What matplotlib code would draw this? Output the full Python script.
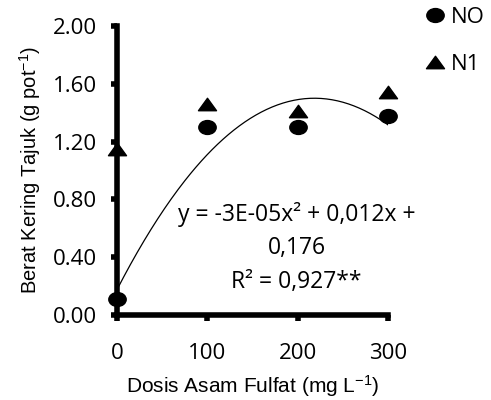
import numpy as np
import matplotlib
matplotlib.use("Agg")
import matplotlib.pyplot as plt
from matplotlib.path import Path
from matplotlib.transforms import Affine2D
from matplotlib.lines import Line2D

# data
dosis = [0, 100, 200, 300]
n0 = [0.11, 1.30, 1.30, 1.38]
n1 = [1.15, 1.46, 1.41, 1.54]
y_ticks = [0.0, 0.4, 0.8, 1.2, 1.6, 2.0]
x_ticks = [0, 100, 200, 300]
series_labels = ["NO", "N1"]
equation = "y = -3E-05x² + 0,012x +\n0,176\nR² = 0,927**"

plt.rcParams["mathtext.default"] = "regular"

# the reference markers are a bit wider than tall
circle = Path.unit_circle().transformed(Affine2D().scale(1.25, 1.0))
tri = Path([(0, 1), (-1.45, -1), (1.45, -1), (0, 1)],
           [Path.MOVETO, Path.LINETO, Path.LINETO, Path.CLOSEPOLY])

fig = plt.figure(figsize=(4.91, 4.00), dpi=100)
ax = fig.add_axes([0.238, 0.2125, 0.552, 0.7225])

# polynomial trend line of the NO series
coef = np.polyfit(dosis, n0, 2)
xs = np.linspace(0, 300, 200)
ax.plot(xs, np.polyval(coef, xs), color="black", lw=0.9, zorder=2)

ax.plot(dosis, n0, ls="none", marker=circle, ms=12.5, color="black",
        clip_on=False, zorder=5)
ax.plot(dosis, n1, ls="none", marker=tri, ms=13, color="black",
        clip_on=False, zorder=5)

ax.set_xlim(0, 300)
ax.set_ylim(0, 2.0)
ax.set_xticks(x_ticks)
ax.set_yticks(y_ticks)
ax.set_yticklabels([f"{v:.2f}" for v in y_ticks])

for side in ["top", "right"]:
    ax.spines[side].set_visible(False)
for side in ["left", "bottom"]:
    ax.spines[side].set_linewidth(4)
ax.tick_params(direction="out", length=4.5, width=4, color="black")
ax.tick_params(axis="y", pad=10)
ax.tick_params(axis="x", pad=16)
for lab in ax.get_xticklabels() + ax.get_yticklabels():
    lab.set_fontfamily("Open Sans")
    lab.set_fontsize(16)

ax.set_xlabel("Dosis Asam Fulfat (mg L$^{-1}$)", family="Liberation Sans",
              fontsize=15, labelpad=6)
ax.set_ylabel("Berat Kering Tajuk (g pot$^{-1}$)", family="Liberation Sans",
              fontsize=14.5, labelpad=7)

ax.text(199, 0.464, equation, ha="center", va="center", family="Open Sans",
        fontsize=16.5, linespacing=1.55, zorder=4)

handles = [
    Line2D([], [], ls="none", marker=circle, ms=12.5, color="black"),
    Line2D([], [], ls="none", marker=tri, ms=13, color="black"),
]
fig.legend(handles, series_labels, loc="upper left", bbox_to_anchor=(0.866, 0.982),
           frameon=False, borderpad=0, borderaxespad=0, handlelength=0.85,
           handletextpad=0.3, labelspacing=1.15,
           prop={"family": "Open Sans", "size": 16})

fig.savefig("out.png", dpi=100)
